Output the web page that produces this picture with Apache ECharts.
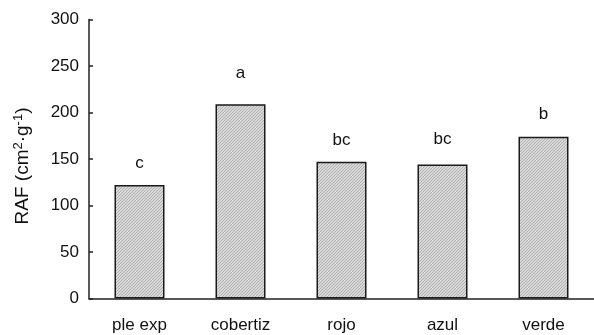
<!DOCTYPE html>
<html>
<head>
<meta charset="utf-8">
<script src="https://cdn.jsdelivr.net/npm/echarts@6/dist/echarts.min.js"></script>
<style>
  html, body { margin: 0; padding: 0; background: #fff; }
  #chart { width: 594px; height: 335px; }
</style>
</head>
<body>
<div id="chart"></div>
<script>
// Treatments and their RAF values
const categories = ['ple exp', 'cobertiz', 'rojo', 'azul', 'verde'];
const rafValues = [122, 209, 147, 144, 174];
const groupLetters = ['c', 'a', 'bc', 'bc', 'b'];
const yTicks = { min: 0, max: 300, interval: 50 };

// Fine diagonal hatch used as the bar fill
function makeHatch() {
  const c = document.createElement('canvas');
  c.width = 3; c.height = 3;
  const ctx = c.getContext('2d');
  ctx.fillStyle = '#d9d9d9';
  ctx.fillRect(0, 0, 3, 3);
  ctx.fillStyle = '#b0b0b0';
  for (let i = 0; i < 3; i++) {
    ctx.fillRect(2 - i, i, 1, 1);
  }
  return c;
}
const hatch = makeHatch();

// extra space between each bar and its letter
const letterGap = [13, 22, 13, 17, 14];

const FONT = 'Liberation Sans, Arial, sans-serif';
const chart = echarts.init(document.getElementById('chart'), null, { renderer: 'canvas' });
chart.setOption({
  animation: false,
  backgroundColor: '#fff',
  textStyle: { fontFamily: FONT },
  grid: { left: 89, top: 19.5, width: 508, bottom: 36.5, containLabel: false },
  xAxis: {
    type: 'category',
    data: categories,
    axisLine: { lineStyle: { color: '#222', width: 1.5 } },
    axisTick: { show: false },
    axisLabel: { color: '#111', fontSize: 17, margin: 18 }
  },
  yAxis: {
    type: 'value',
    min: yTicks.min, max: yTicks.max, interval: yTicks.interval,
    name: '{t|RAF (cm}{sup|2}{t|·g}{sup|-1}{t|)}',
    nameLocation: 'middle',
    nameGap: 55,
    nameTextStyle: {
      padding: [0, 14, 0, 0],
      rich: {
        t: { fontSize: 19, color: '#111', fontFamily: FONT },
        sup: { fontSize: 13, color: '#111', verticalAlign: 'top', padding: [0, 0, 9, 0], fontFamily: FONT }
      }
    },
    axisLine: { show: true, lineStyle: { color: '#222', width: 1.5 } },
    axisTick: { show: true, inside: true, length: 4, lineStyle: { color: '#222', width: 1.5 } },
    axisLabel: { color: '#111', fontSize: 17, margin: 10 },
    splitLine: { show: false }
  },
  series: [{
    type: 'bar',
    barWidth: 50,
    data: rafValues.map((v, i) => ({
      value: v,
      label: {
        show: true,
        position: 'top',
        distance: letterGap[i],
        formatter: groupLetters[i],
        fontSize: 17,
        color: '#111'
      }
    })),
    itemStyle: {
      color: { image: hatch, repeat: 'repeat' },
      borderColor: '#1a1a1a',
      borderWidth: 1.5
    }
  }]
});
</script>
</body>
</html>
